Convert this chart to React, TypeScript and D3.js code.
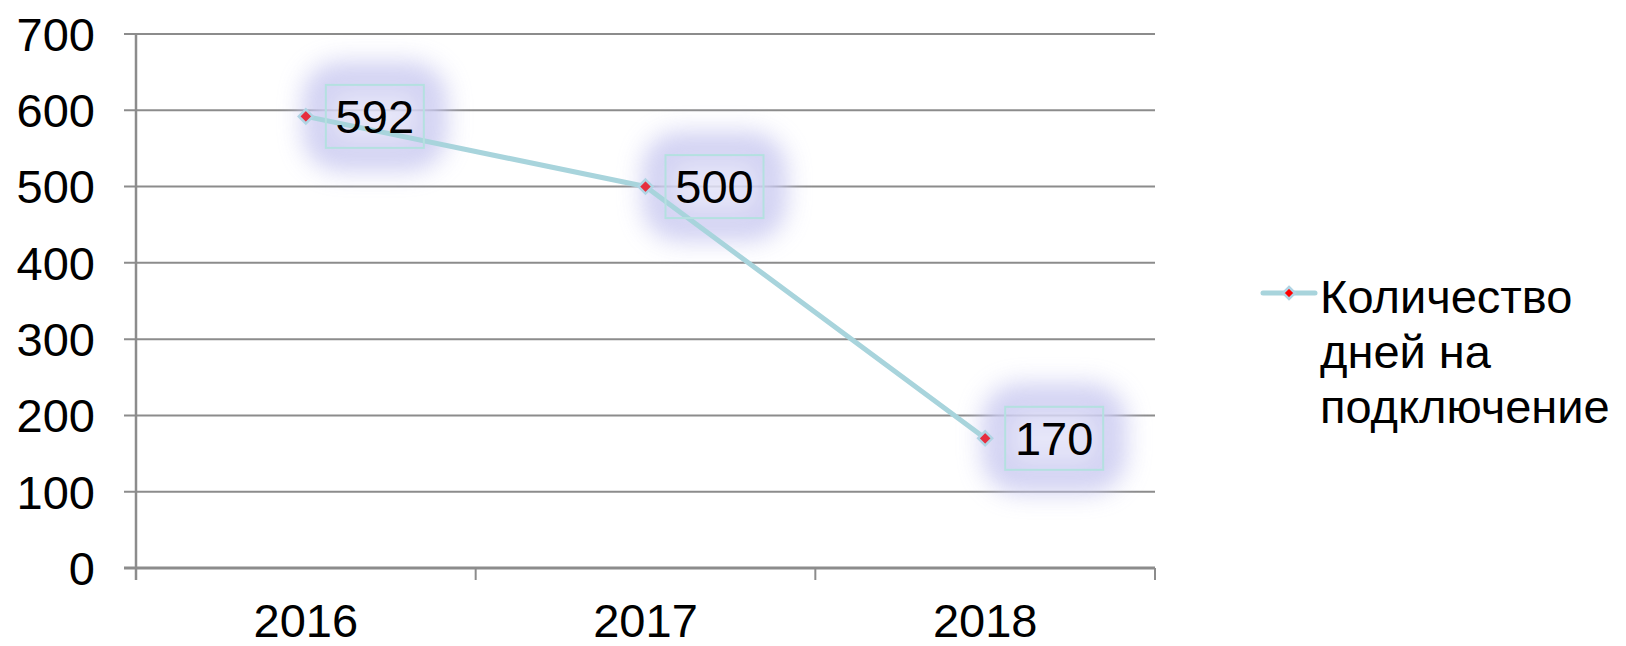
import React from "react";
import * as d3 from "d3";

const years = ["2016", "2017", "2018"];
const days = [592, 500, 170];
const yTicks = [0, 100, 200, 300, 400, 500, 600, 700];
const legendLines = ["Количество", "дней на", "подключение"];

const W = 1626;
const H = 646;
const FONT = "'Liberation Sans', Arial, sans-serif";
const FS = 47;

export default function App() {
  const x = d3.scaleBand<string>().domain(years).range([136, 1155]);
  const y = d3.scaleLinear().domain([0, 700]).range([568, 34]);
  const cx = (d: string) => (x(d) ?? 0) + x.bandwidth() / 2;

  const line = d3
    .line<number>()
    .x((_, i) => cx(years[i]))
    .y((d) => y(d));

  const diamond = (px: number, py: number, r: number) =>
    `M${px},${py - r}L${px + r},${py}L${px},${py + r}L${px - r},${py}Z`;

  const bounds = [...years.map((d) => x(d) ?? 0), 1155];
  const boxW = 98;
  const boxH = 63;

  return (
    <svg width={W} height={H} style={{ position: "absolute", left: 0, top: 0, background: "#fff" }}>
      <defs>
        <filter id="glow" x="-60%" y="-60%" width="220%" height="220%">
          <feGaussianBlur stdDeviation="12" />
        </filter>
      </defs>

      {/* gridlines + y ticks */}
      {yTicks.map((t) => (
        <line key={t} x1={124} x2={1155} y1={y(t)} y2={y(t)} stroke="#8c8c8c" strokeWidth={2} />
      ))}
      {/* axes */}
      <line x1={136} x2={136} y1={y(700)} y2={580} stroke="#8c8c8c" strokeWidth={2.5} />
      <line x1={124} x2={1155} y1={y(0)} y2={y(0)} stroke="#8c8c8c" strokeWidth={3} />
      {bounds.map((b, i) => (
        <line key={i} x1={b} x2={b} y1={y(0)} y2={580} stroke="#8c8c8c" strokeWidth={2} />
      ))}

      {yTicks.map((t) => (
        <text key={t} x={95} y={y(t)} dy="0.36em" textAnchor="end" fontFamily={FONT} fontSize={FS} fill="#000">
          {t}
        </text>
      ))}
      {years.map((d) => (
        <text key={d} x={cx(d)} y={637} textAnchor="middle" fontFamily={FONT} fontSize={FS} fill="#000">
          {d}
        </text>
      ))}

      {/* label glows */}
      {days.map((v, i) => {
        const bx = cx(years[i]) + 20;
        const by = y(v) - boxH / 2;
        return (
          <rect
            key={i}
            x={bx - 8}
            y={by - 8}
            width={boxW + 16}
            height={boxH + 16}
            rx={22}
            fill="#e2e2f8"
            stroke="#c8c8f0"
            strokeWidth={30}
            opacity={0.85}
            filter="url(#glow)"
          />
        );
      })}

      <path d={line(days) ?? ""} fill="none" stroke="#a8d4dc" strokeWidth={5} strokeLinejoin="round" />

      {days.map((v, i) => (
        <path
          key={i}
          d={diamond(cx(years[i]), y(v), 7)}
          fill="#e62e3e"
          stroke="#b0d4e4"
          strokeWidth={2.5}
        />
      ))}

      {days.map((v, i) => {
        const bx = cx(years[i]) + 20;
        const by = y(v) - boxH / 2;
        return (
          <g key={i}>
            <rect x={bx} y={by} width={boxW} height={boxH} fill="none" stroke="#b4e0e0" strokeWidth={2} />
            <text
              x={bx + boxW / 2}
              y={y(v)}
              dy="0.36em"
              textAnchor="middle"
              fontFamily={FONT}
              fontSize={FS}
              fill="#000"
            >
              {v}
            </text>
          </g>
        );
      })}

      {/* legend */}
      <line x1={1263} x2={1315} y1={293} y2={293} stroke="#a8d4dc" strokeWidth={5} strokeLinecap="round" />
      <path d={diamond(1289, 293, 6)} fill="#ff0000" stroke="#b0d4e4" strokeWidth={2.5} />
      {legendLines.map((l, i) => (
        <text key={l} x={1320} y={313 + i * 55} fontFamily={FONT} fontSize={FS} fill="#000">
          {l}
        </text>
      ))}
    </svg>
  );
}
